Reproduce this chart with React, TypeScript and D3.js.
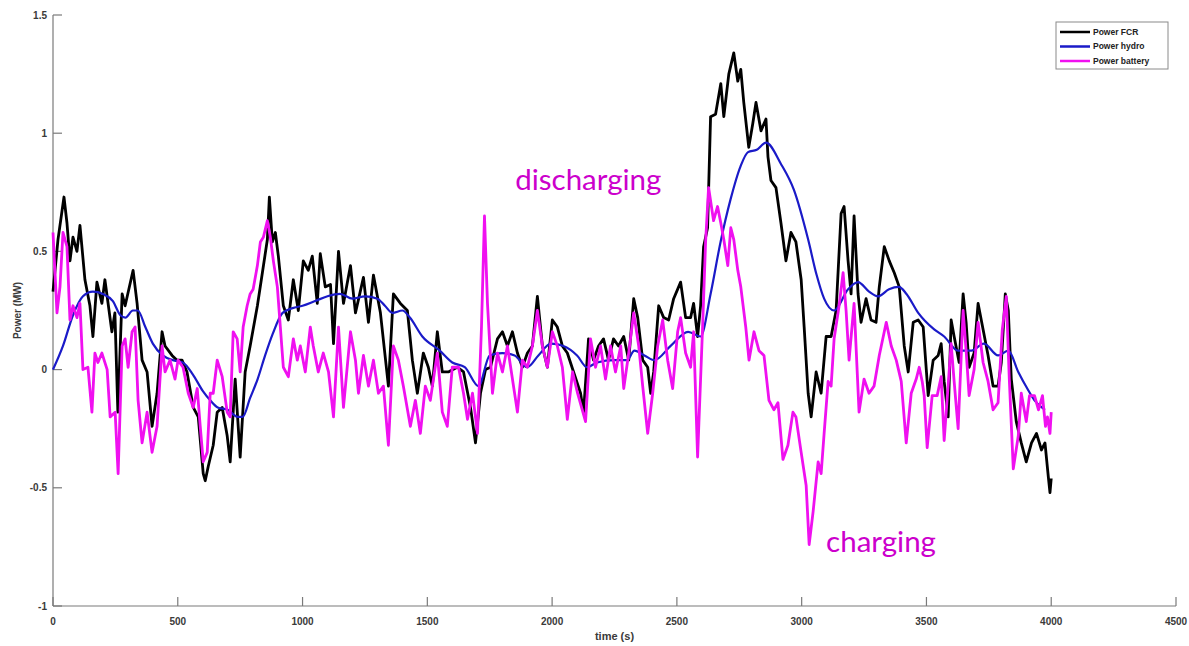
import React from "react";
import * as d3 from "d3";

// Power traces, [time (s), power (MW)]
const fcrPoints: [number, number][] = [
  [0,0.33],[20,0.55],[44,0.73],[56,0.62],[68,0.46],[80,0.56],[96,0.5],[108,0.61],[128,0.38],[148,0.27],[160,0.14],[176,0.37],[196,0.28],[208,0.38],[236,0.16],[248,0.24],[260,-0.18],[277,0.32],[289,0.27],[321,0.42],[337,0.28],[357,0.04],[377,-0.01],[397,-0.24],[417,-0.10],[437,0.16],[449,0.10],[477,0.06],[497,0.04],[517,0.04],[537,-0.01],[562,-0.16],[582,-0.2],[602,-0.44],[610,-0.47],[622,-0.41],[642,-0.32],[658,-0.18],[678,-0.16],[698,-0.28],[710,-0.39],[730,-0.04],[750,-0.37],[770,-0.01],[790,0.10],[819,0.27],[839,0.41],[859,0.55],[867,0.73],[879,0.54],[891,0.58],[903,0.48],[923,0.27],[943,0.21],[963,0.38],[983,0.25],[1003,0.46],[1023,0.42],[1039,0.48],[1059,0.28],[1071,0.49],[1091,0.35],[1112,0.36],[1124,0.11],[1144,0.5],[1164,0.28],[1192,0.44],[1212,0.24],[1244,0.39],[1264,0.2],[1284,0.4],[1312,0.24],[1344,-0.07],[1364,0.32],[1392,0.28],[1420,0.25],[1440,0.04],[1460,-0.1],[1484,0.07],[1504,0.01],[1520,-0.07],[1540,0.16],[1560,-0.01],[1584,-0.01],[1620,0.01],[1645,-0.01],[1673,-0.16],[1693,-0.31],[1713,-0.1],[1733,0.0],[1753,0.01],[1781,0.13],[1801,0.16],[1821,0.1],[1841,0.16],[1861,0.07],[1881,0.01],[1901,0.07],[1921,0.1],[1941,0.31],[1961,0.1],[1981,0.01],[2001,0.21],[2021,0.18],[2041,0.1],[2061,0.07],[2086,-0.01],[2114,-0.1],[2126,-0.18],[2146,0.13],[2166,0.04],[2186,0.1],[2206,0.13],[2226,0.04],[2246,0.13],[2266,0.1],[2287,0.14],[2307,0.04],[2327,0.3],[2343,0.22],[2363,0.04],[2383,0.01],[2395,-0.1],[2407,-0.01],[2427,0.27],[2447,0.22],[2467,0.21],[2487,0.3],[2515,0.37],[2535,0.22],[2555,0.22],[2567,0.28],[2583,0.14],[2595,0.27],[2607,0.52],[2623,0.6],[2635,1.07],[2655,1.08],[2676,1.21],[2688,1.07],[2708,1.25],[2728,1.34],[2744,1.22],[2756,1.27],[2768,1.13],[2788,0.94],[2804,1.04],[2817,1.13],[2837,1.01],[2857,1.06],[2865,0.9],[2877,0.8],[2897,0.77],[2917,0.62],[2937,0.46],[2957,0.58],[2977,0.54],[2998,0.38],[3010,0.18],[3026,-0.1],[3038,-0.2],[3058,-0.01],[3078,-0.1],[3098,0.14],[3118,0.14],[3138,0.25],[3158,0.66],[3170,0.69],[3186,0.46],[3198,0.32],[3210,0.65],[3226,0.32],[3238,0.2],[3258,0.3],[3278,0.21],[3298,0.2],[3311,0.35],[3331,0.52],[3351,0.46],[3371,0.41],[3391,0.35],[3411,0.1],[3427,-0.01],[3447,0.2],[3467,0.21],[3487,0.18],[3507,-0.11],[3527,0.04],[3547,0.06],[3559,0.11],[3571,-0.05],[3587,-0.2],[3599,0.21],[3611,0.14],[3631,0.03],[3647,0.32],[3659,0.2],[3671,0.01],[3691,0.07],[3707,0.28],[3727,0.17],[3747,0.06],[3767,-0.07],[3787,-0.07],[3800,0.03],[3816,0.32],[3828,0.25],[3840,-0.04],[3860,-0.22],[3880,-0.31],[3900,-0.39],[3921,-0.31],[3941,-0.27],[3961,-0.34],[3975,-0.31],[3989,-0.46],[3995,-0.52],[4000,-0.46],
];

const hydroPoints: [number, number][] = [
  [0,0],[40,0.1],[80,0.23],[120,0.31],[160,0.33],[200,0.32],[240,0.29],[270,0.23],[290,0.22],[320,0.25],[340,0.25],[370,0.18],[400,0.11],[440,0.06],[480,0.04],[520,0.03],[560,-0.02],[600,-0.09],[630,-0.13],[660,-0.16],[700,-0.17],[740,-0.2],[760,-0.2],[790,-0.12],[820,-0.04],[850,0.06],[880,0.15],[920,0.24],[960,0.26],[1000,0.27],[1050,0.29],[1100,0.31],[1150,0.32],[1200,0.3],[1250,0.31],[1300,0.3],[1330,0.27],[1360,0.24],[1400,0.25],[1430,0.22],[1480,0.14],[1550,0.08],[1600,0.03],[1650,0.01],[1705,-0.07],[1750,0.06],[1800,0.07],[1850,0.06],[1900,0.01],[1945,0.06],[1995,0.11],[2045,0.1],[2100,0.06],[2140,0.01],[2180,0.03],[2250,0.04],[2300,0.04],[2330,0.08],[2370,0.06],[2410,0.04],[2475,0.1],[2545,0.16],[2595,0.14],[2635,0.32],[2675,0.54],[2715,0.72],[2755,0.86],[2785,0.92],[2820,0.93],[2857,0.96],[2917,0.87],[2969,0.76],[3026,0.55],[3060,0.4],[3090,0.3],[3130,0.25],[3186,0.34],[3226,0.37],[3270,0.33],[3306,0.31],[3350,0.34],[3390,0.35],[3420,0.32],[3467,0.24],[3531,0.17],[3571,0.14],[3627,0.08],[3680,0.08],[3730,0.11],[3787,0.06],[3828,0.08],[3868,-0.01],[3904,-0.08],[3933,-0.13],[3975,-0.17],
];

const batteryPoints: [number, number][] = [
  [0,0.58],[16,0.24],[28,0.35],[40,0.58],[56,0.52],[68,0.21],[80,0.27],[96,0.22],[108,0.28],[120,0.0],[140,0.01],[156,-0.18],[168,0.07],[180,0.03],[196,0.07],[217,0.0],[229,-0.2],[249,-0.18],[261,-0.44],[277,0.1],[289,0.13],[301,0.01],[317,0.16],[329,0.18],[341,-0.13],[357,-0.31],[377,-0.18],[397,-0.35],[417,-0.24],[437,0.1],[449,-0.01],[469,0.04],[489,-0.04],[501,0.04],[521,0.01],[542,-0.1],[562,-0.16],[578,-0.08],[590,-0.24],[602,-0.39],[618,-0.35],[630,-0.1],[642,-0.1],[658,0.04],[678,-0.03],[698,-0.18],[710,-0.2],[722,0.16],[738,0.13],[750,-0.01],[762,0.18],[778,0.27],[790,0.32],[802,0.34],[819,0.44],[831,0.54],[843,0.56],[859,0.63],[871,0.56],[883,0.46],[899,0.35],[911,0.18],[923,0.01],[943,-0.03],[963,0.13],[979,0.04],[991,0.1],[1011,-0.01],[1031,0.18],[1043,0.1],[1063,-0.01],[1083,0.07],[1104,-0.01],[1124,-0.2],[1144,0.18],[1164,-0.16],[1192,0.16],[1212,0.04],[1224,-0.1],[1244,0.06],[1264,-0.07],[1284,0.04],[1304,-0.1],[1324,-0.07],[1344,-0.32],[1364,0.1],[1384,0.04],[1404,-0.07],[1432,-0.24],[1452,-0.13],[1472,-0.27],[1492,-0.07],[1512,-0.13],[1540,0.07],[1560,-0.18],[1580,-0.24],[1600,0.01],[1625,0.01],[1645,-0.1],[1661,-0.21],[1681,-0.1],[1701,-0.27],[1717,0.18],[1729,0.65],[1741,0.28],[1761,-0.1],[1781,0.07],[1801,-0.01],[1821,0.1],[1841,-0.04],[1861,-0.18],[1881,0.04],[1901,0.01],[1921,0.1],[1941,0.25],[1961,0.1],[1981,0.01],[2001,0.16],[2021,0.1],[2041,0.01],[2061,-0.21],[2082,-0.01],[2102,-0.1],[2134,-0.22],[2154,0.13],[2174,0.01],[2194,0.1],[2214,-0.04],[2234,0.1],[2254,-0.01],[2275,0.1],[2287,-0.08],[2307,0.07],[2327,0.24],[2347,0.1],[2363,-0.07],[2383,-0.27],[2403,-0.1],[2423,0.1],[2443,0.21],[2463,0.04],[2483,-0.08],[2503,0.16],[2515,0.22],[2535,0.07],[2555,0.01],[2567,0.16],[2583,-0.37],[2603,0.18],[2615,0.54],[2627,0.77],[2647,0.63],[2663,0.69],[2676,0.62],[2688,0.55],[2704,0.44],[2716,0.6],[2728,0.55],[2744,0.42],[2756,0.35],[2776,0.18],[2789,0.04],[2809,0.16],[2829,0.08],[2849,0.06],[2869,-0.13],[2889,-0.17],[2905,-0.14],[2925,-0.38],[2945,-0.32],[2965,-0.18],[2977,-0.2],[2998,-0.35],[3018,-0.49],[3030,-0.74],[3046,-0.6],[3066,-0.39],[3078,-0.44],[3090,-0.27],[3106,-0.05],[3118,-0.07],[3130,0.13],[3150,0.27],[3166,0.41],[3178,0.25],[3190,0.04],[3210,0.28],[3230,-0.18],[3250,-0.04],[3270,-0.1],[3290,-0.07],[3311,0.06],[3339,0.2],[3359,0.1],[3379,0.04],[3399,-0.05],[3419,-0.31],[3439,-0.1],[3459,-0.04],[3471,0.01],[3483,-0.05],[3491,-0.11],[3503,-0.33],[3523,-0.11],[3543,-0.11],[3559,-0.03],[3571,-0.3],[3599,0.11],[3611,-0.05],[3627,-0.25],[3647,0.25],[3659,0.08],[3671,-0.11],[3691,0.0],[3707,0.2],[3727,0.03],[3747,-0.05],[3767,-0.17],[3787,-0.14],[3804,0.17],[3820,0.31],[3832,-0.04],[3848,-0.42],[3868,-0.28],[3880,-0.1],[3900,-0.22],[3913,-0.11],[3933,-0.11],[3949,-0.17],[3965,-0.11],[3977,-0.24],[3985,-0.2],[3995,-0.27],[4000,-0.18],
];

const xTicks = [0, 500, 1000, 1500, 2000, 2500, 3000, 3500, 4000, 4500];
const yTicks = [-1, -0.5, 0, 0.5, 1, 1.5];
const yTickLabels = ["-1", "-0.5", "0", "0.5", "1", "1.5"];

const seriesNames = ["Power FCR", "Power hydro", "Power battery"];
const seriesColors = ["#000000", "#1a1ac8", "#f010f0"];

// Text notes placed at (time, power) of their left baseline
const annotations = [
  { text: "discharging", t: 1852, v: 0.76 },
  { text: "charging", t: 3098, v: -0.77 },
];

const W = 1189;
const H = 646;
const margin = { left: 53, right: 13, top: 15, bottom: 40 };

export default function App() {
  const x = d3.scaleLinear().domain([0, 4500]).range([margin.left, W - margin.right]);
  const y = d3.scaleLinear().domain([-1, 1.5]).range([H - margin.bottom, margin.top]);

  const jagged = d3
    .line<[number, number]>()
    .x((d) => x(d[0]))
    .y((d) => y(d[1]))
    .curve(d3.curveLinear);
  const smooth = d3
    .line<[number, number]>()
    .x((d) => x(d[0]))
    .y((d) => y(d[1]))
    .curve(d3.curveMonotoneX);

  const axisColor = "#7a7a7a";
  const labelColor = "#3a3a3a";
  const tickFont = "'Liberation Sans', Arial, sans-serif";
  const x0 = x(0);
  const y0 = y(-1);

  const legendX = 1056;
  const legendY = 22;

  return (
    <svg
      width={W}
      height={H}
      style={{ position: "absolute", left: 0, top: 0, background: "#fff" }}
      fontFamily={tickFont}
    >
      {/* axes */}
      <line x1={x0} x2={x0} y1={y(1.5)} y2={y0} stroke={axisColor} strokeWidth={1.2} />
      <line x1={x0} x2={x(4500)} y1={y0} y2={y0} stroke={axisColor} strokeWidth={1.2} />
      {yTicks.map((v, i) => (
        <g key={"y" + v}>
          <line x1={x0} x2={x0 + 9} y1={y(v)} y2={y(v)} stroke={axisColor} strokeWidth={1.2} />
          <text
            x={x0 - 6}
            y={y(v)}
            dy="0.35em"
            textAnchor="end"
            fontSize={10}
            fontWeight="bold"
            fill={labelColor}
          >
            {yTickLabels[i]}
          </text>
        </g>
      ))}
      {xTicks.map((t) => (
        <g key={"x" + t}>
          <line x1={x(t)} x2={x(t)} y1={y0} y2={y0 - 9} stroke={axisColor} strokeWidth={1.2} />
          <text
            x={x(t)}
            y={y0 + 19}
            textAnchor="middle"
            fontSize={10}
            fontWeight="bold"
            fill={labelColor}
          >
            {t}
          </text>
        </g>
      ))}
      <text
        x={(x0 + x(4500)) / 2}
        y={y0 + 34}
        textAnchor="middle"
        fontSize={11}
        fontWeight="bold"
        fill={labelColor}
      >
        time (s)
      </text>
      <text
        transform={`translate(21, ${(y(1.5) + y0) / 2}) rotate(-90)`}
        textAnchor="middle"
        fontSize={10}
        fontWeight="bold"
        fill={labelColor}
      >
        Power (MW)
      </text>

      {/* series */}
      <path d={jagged(fcrPoints) || ""} fill="none" stroke={seriesColors[0]} strokeWidth={2.8} strokeLinejoin="round" />
      <path d={smooth(hydroPoints) || ""} fill="none" stroke={seriesColors[1]} strokeWidth={2.2} strokeLinejoin="round" />
      <path d={jagged(batteryPoints) || ""} fill="none" stroke={seriesColors[2]} strokeWidth={2.8} strokeLinejoin="round" />

      {/* annotations */}
      {annotations.map((a) => (
        <text
          key={a.text}
          x={x(a.t)}
          y={y(a.v)}
          textAnchor="start"
          fontSize={29.5}
          fontFamily="Lato, 'Open Sans', sans-serif"
          fill="#cc00cc"
        >
          {a.text}
        </text>
      ))}

      {/* legend */}
      <rect x={legendX} y={legendY} width={112} height={47} fill="#fff" stroke="#8a8a8a" strokeWidth={1} />
      {seriesNames.map((name, i) => (
        <g key={name}>
          <line
            x1={legendX + 4}
            x2={legendX + 34}
            y1={legendY + 10 + i * 14.5}
            y2={legendY + 10 + i * 14.5}
            stroke={seriesColors[i]}
            strokeWidth={2.5}
          />
          <text
            x={legendX + 37}
            y={legendY + 10 + i * 14.5}
            dy="0.35em"
            fontSize={8.5}
            fontWeight="bold"
            fill="#222"
          >
            {name}
          </text>
        </g>
      ))}
    </svg>
  );
}
